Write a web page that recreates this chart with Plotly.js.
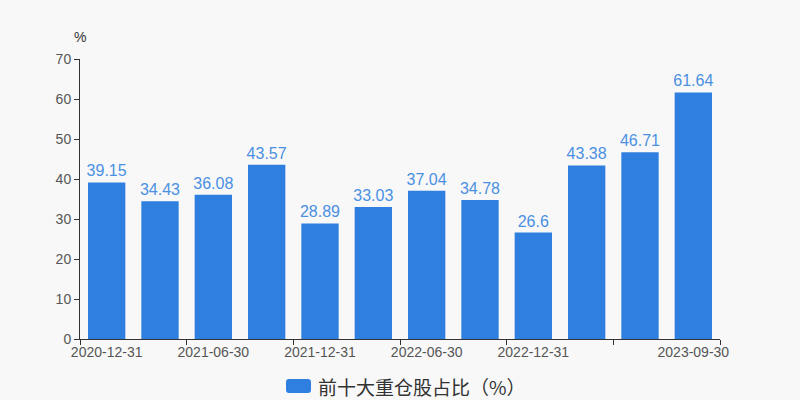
<!DOCTYPE html>
<html>
<head>
<meta charset="utf-8">
<script src="https://cdn.plot.ly/plotly-3.0.1.min.js"></script>
<style>html,body{margin:0;padding:0;background:#f8f8f8;}#chart{width:800px;height:400px;}</style>
</head>
<body>
<div id="chart"></div>
<script>
var dates = ["2020-12-31","2021-03-31","2021-06-30","2021-09-30","2021-12-31","2022-03-31","2022-06-30","2022-09-30","2022-12-31","2023-03-31","2023-06-30","2023-09-30"];
var values = [39.15, 34.43, 36.08, 43.57, 28.89, 33.03, 37.04, 34.78, 26.6, 43.38, 46.71, 61.64];
var labelDates = ["2020-12-31","2021-06-30","2021-12-31","2022-06-30","2022-12-31","2023-09-30"];
var seriesName = "前十大重仓股占比（%）";
var yTicks = [0,10,20,30,40,50,60,70];

var blue = "#2e7fdf";
var font = "'Noto Sans CJK SC', 'Liberation Sans', Arial, sans-serif";
var latin = "'Liberation Sans', Arial, sans-serif";

var bar = {
  type: "bar",
  x: dates,
  y: values,
  name: seriesName,
  width: 0.7,
  marker: {color: blue},
  text: values.map(String),
  textposition: "outside",
  constraintext: "none",
  cliponaxis: false,
  textfont: {color: "#4a90e2", size: 16, family: latin},
  hoverinfo: "x+y",
  showlegend: false
};
var helper = {
  type: "scatter", x: [-0.5, dates.length - 0.5], y: [0, 0], xaxis: "x2",
  mode: "markers", marker: {opacity: 0}, showlegend: false, hoverinfo: "skip"
};
var boundaryTicks = [];
for (var i = -0.5; i <= dates.length - 0.5; i += 2) boundaryTicks.push(i);
if (boundaryTicks[boundaryTicks.length-1] !== dates.length - 0.5) boundaryTicks.push(dates.length - 0.5);

var layout = {
  width: 800, height: 400,
  paper_bgcolor: "#f8f8f8", plot_bgcolor: "#f8f8f8",
  margin: {l: 80, r: 80, t: 59, b: 61},
  font: {family: font, color: "#555"},
  bargap: 0.3,
  uniformtext: {mode: false},
  xaxis: {
    type: "category",
    range: [-0.5, dates.length - 0.5],
    tickvals: labelDates, ticktext: labelDates,
    ticks: "", showgrid: false, zeroline: false,
    showline: true, linecolor: "#333", linewidth: 1,
    tickfont: {size: 14, color: "#555", family: latin}
  },
  xaxis2: {
    overlaying: "x", anchor: "y",
    range: [-0.5, dates.length - 0.5],
    tickvals: boundaryTicks, showticklabels: false,
    ticks: "outside", ticklen: 5, tickcolor: "#333", tickwidth: 1,
    showgrid: false, zeroline: false, showline: false
  },
  yaxis: {
    range: [0, 70], tickvals: yTicks,
    ticks: "outside", ticklen: 5, tickcolor: "#333",
    showgrid: false, zeroline: false,
    showline: true, linecolor: "#333", linewidth: 1,
    tickfont: {size: 14, color: "#555", family: latin}
  },
  showlegend: false,
  shapes: [{
    type: "path", xref: "paper", yref: "paper",
    path: (function(){
      function px(x){return (x-80)/640;} function py(y){return (339-y)/280;}
      var x0=286,x1=311,y0=379,y1=393,r=3;
      return "M"+px(x0+r)+","+py(y0)+" L"+px(x1-r)+","+py(y0)+" Q"+px(x1)+","+py(y0)+" "+px(x1)+","+py(y0+r)+
        " L"+px(x1)+","+py(y1-r)+" Q"+px(x1)+","+py(y1)+" "+px(x1-r)+","+py(y1)+
        " L"+px(x0+r)+","+py(y1)+" Q"+px(x0)+","+py(y1)+" "+px(x0)+","+py(y1-r)+
        " L"+px(x0)+","+py(y0+r)+" Q"+px(x0)+","+py(y0)+" "+px(x0+r)+","+py(y0)+" Z";
    })(),
    fillcolor: blue, line: {width: 0}
  }],
  annotations: [
    {text: "%", xref: "paper", yref: "paper", x: 0, y: (339-37)/280, xanchor: "center", yanchor: "middle",
     showarrow: false, font: {size: 14, color: "#333", family: latin}},
    {text: seriesName, xref: "paper", yref: "paper", x: (316-80)/640, y: (339-386)/280, xanchor: "left", yanchor: "middle",
     showarrow: false, font: {size: 19, color: "#333", family: font}}
  ]
};
Plotly.newPlot("chart", [bar, helper], layout, {displayModeBar: false, staticPlot: true});
</script>
</body>
</html>
